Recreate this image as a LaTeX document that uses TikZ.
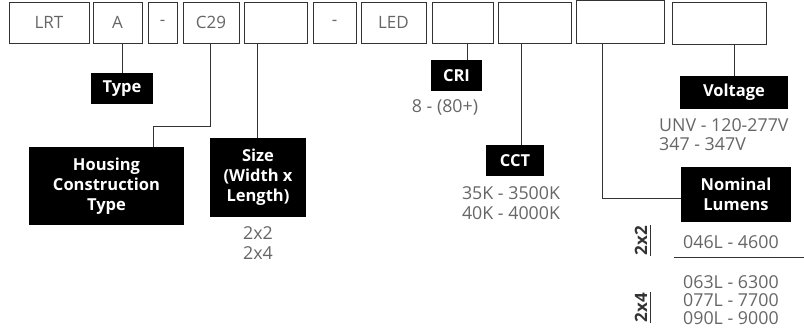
\documentclass[tikz,border=0pt]{standalone}
\usepackage{fontspec}
\setmainfont{Open Sans}
\definecolor{txtgray}{HTML}{666666}
\definecolor{linegray}{HTML}{333333}
\begin{document}
\begin{tikzpicture}[x=1pt,y=-1pt,
  topbox/.style={draw=linegray,line width=0.9pt,inner sep=0pt,text=txtgray,font=\fontsize{17}{18}\selectfont},
  blk/.style={fill=black,text=white,inner sep=0pt,align=center,font=\fontsize{16.5}{20}\selectfont\bfseries},
  conn/.style={draw=linegray,line width=0.9pt},
  vals/.style={text=txtgray,inner sep=0pt,font=\fontsize{17.8}{19}\selectfont},
  rot/.style={text=linegray,inner sep=0pt,rotate=90,font=\fontsize{17}{18}\selectfont\bfseries}]
\useasboundingbox (0,0) rectangle (804,333);
% top row
\node[topbox,minimum width=80,minimum height=41] (b1) at (49,22.5) {LRT};
\node[topbox,minimum width=49,minimum height=41] (b2) at (117.5,22.5) {A};
\node[topbox,minimum width=29,minimum height=41] (b3) at (162.5,22.5) {-};
\node[topbox,minimum width=56,minimum height=41] (b4) at (211,22.5) {C29};
\node[topbox,minimum width=63,minimum height=41] (b5) at (275.5,22.5) {};
\node[topbox,minimum width=43,minimum height=41] (b6) at (334.5,22.5) {-};
\node[topbox,minimum width=65,minimum height=41] (b7) at (393.5,22.5) {LED};
\node[topbox,minimum width=61,minimum height=41] (b8) at (462.5,22.5) {};
\node[topbox,minimum width=73,minimum height=41] (b9) at (534.5,22.5) {};
\node[topbox,minimum width=88,minimum height=43] (b10) at (620,21.5) {};
\node[topbox,minimum width=94,minimum height=42] (b11) at (719,23) {};
% black labels
\node[blk,minimum width=62,minimum height=31] (type) at (122,88.5) {Type};
\node[blk,minimum width=155,minimum height=78] (house) at (106.5,186) {Housing\\Construction\\Type};
\node[blk,minimum width=96,minimum height=79] (size) at (258,177.5) {Size\\(Width x\\Length)};
\node[blk,minimum width=51,minimum height=31] (cri) at (456.5,75.5) {CRI};
\node[blk,minimum width=58,minimum height=31] (cct) at (515,160.5) {CCT};
\node[blk,minimum width=108,minimum height=33] (volt) at (734,92.5) {Voltage};
\node[blk,minimum width=110,minimum height=55] (lum) at (736,194.5) {Nominal\\Lumens};
% connectors
\coordinate (hk1) at (210,126);
\coordinate (hk2) at (153,126);
\coordinate (nk) at (602,198);
\draw[conn] (b2.south -| type.north) -- (type.north);
\draw[conn] (b4.south -| hk1) -- (hk1) -- (hk2) -- (house.north -| hk2);
\draw[conn] (b5.south -| 257,0) -- (size.north -| 257,0);
\draw[conn] (b8.south -| 467,0) -- (cri.north -| 467,0);
\draw[conn] (b9.south -| 521,0) -- (cct.north -| 521,0);
\draw[conn] (b10.south -| nk) -- (nk) -- (lum.west |- nk);
\draw[conn] (b11.south -| volt.north) -- (volt.north);
% values
\node[vals,align=center,font=\fontsize{17.8}{20}\selectfont] (sizev) at (258,243) {2x2\\2x4};
\node[vals] (criv) at (445,107) {8 - (80+)};
\node[vals,align=center,font=\fontsize{17.8}{20}\selectfont] (cctv) at (511,203) {35K - 3500K\\40K - 4000K};
\node[vals,align=left,anchor=west] (voltv) at (659,134.5) {UNV - 120-277V\\347 - 347V};
\node[vals,anchor=west] (l1) at (683,242) {046L - 4600};
\node[vals,anchor=west,align=left,font=\fontsize{17.8}{18}\selectfont] (l2) at (683,300) {063L - 6300\\077L - 7700\\090L - 9000};
\node[rot] (r1) at (641,240.5) {2x2};
\node[rot] (r2) at (641,307.5) {2x4};
\coordinate (u1a) at (650,225);
\coordinate (u1b) at (650,256);
\coordinate (u2a) at (650,292);
\coordinate (u2b) at (650,323);
\draw[draw=linegray,line width=0.8pt] (u1a) -- (u1b);
\draw[draw=linegray,line width=0.8pt] (u2a) -- (u2b);
\coordinate (hla) at (674,257);
\coordinate (hlb) at (804,257);
\draw[conn] (hla) -- (hlb);
\end{tikzpicture}
\end{document}
